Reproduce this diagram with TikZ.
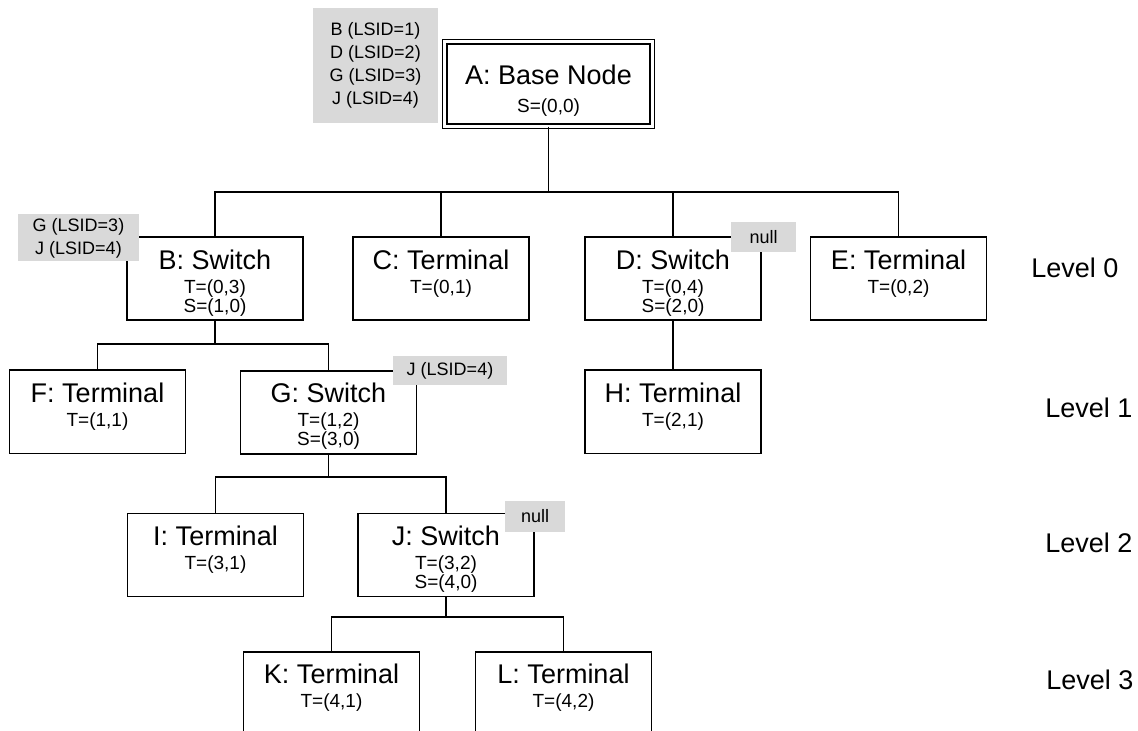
\documentclass[tikz,border=0pt]{standalone}
\usepackage{fontspec}
\setmainfont{Liberation Sans}
\usepackage{xcolor}
\definecolor{tagbg}{HTML}{D9D9D9}
\usepackage{tikz}
\newcommand{\devname}[1]{{\fontsize{13.5}{15}\selectfont\rule{0pt}{16pt}#1}}
\newcommand{\devend}{\rule[-4pt]{0pt}{4pt}}
\tikzset{
  devbox/.style={draw,line width=.8pt,minimum width=88pt,minimum height=41.5pt,inner sep=0pt,align=center,font=\fontsize{9.5}{9.5}\selectfont,anchor=north},
  basebox/.style={draw,double,line width=.7pt,double distance=1.5pt,minimum width=103.7pt,minimum height=42.2pt,inner sep=0pt,align=center,font=\fontsize{9.5}{9.5}\selectfont},
  lsidtag/.style={fill=tagbg,inner sep=0pt,align=center,font=\fontsize{9}{11.5}\selectfont},
  treelink/.style={line width=.8pt},
  levellabel/.style={anchor=west,inner sep=0pt,font=\fontsize{13.5}{15}\selectfont},
}

\begin{document}
\begin{tikzpicture}[x=0.5pt,y=-0.5pt]
\useasboundingbox (0,0) rectangle (1138,731);
\clip (0,0) rectangle (1138,731);

\node[basebox] (A) at (548.5,84) {\devname{A: Base Node}\\[4.5pt]S=(0,0)};

\node[devbox] (B) at (215,236.5) {\devname{B: Switch}\\[2.5pt]T=(0,3)\\S=(1,0)\devend};
\node[devbox] (C) at (441,236.5) {\devname{C: Terminal}\\[2.5pt]T=(0,1)\\\devend};
\node[devbox] (D) at (673,236.5) {\devname{D: Switch}\\[2.5pt]T=(0,4)\\S=(2,0)\devend};
\node[devbox] (E) at (898.5,236.5) {\devname{E: Terminal}\\[2.5pt]T=(0,2)\\\devend};

\node[devbox] (F) at (97.5,369.5) {\devname{F: Terminal}\\[2.5pt]T=(1,1)\\\devend};
\node[devbox] (G) at (328.5,370) {\devname{G: Switch}\\[2.5pt]T=(1,2)\\S=(3,0)\devend};
\node[devbox] (H) at (673,369.5) {\devname{H: Terminal}\\[2.5pt]T=(2,1)\\\devend};

\node[devbox] (I) at (215.5,512.5) {\devname{I: Terminal}\\[2.5pt]T=(3,1)\\\devend};
\node[devbox] (J) at (446,512.5) {\devname{J: Switch}\\[2.5pt]T=(3,2)\\S=(4,0)\devend};

\node[devbox] (K) at (331.5,651) {\devname{K: Terminal}\\[2.5pt]T=(4,1)\\\devend};
\node[devbox] (L) at (563.5,651) {\devname{L: Terminal}\\[2.5pt]T=(4,2)\\\devend};

% bus heights
\coordinate (bus0) at (0,192);
\coordinate (bus1) at (0,344);
\coordinate (bus2) at (0,477);
\coordinate (bus3) at (0,617);

\foreach \c in {B,C,D,E} \draw[treelink] (A.south) |- (\c.north|-bus0) -- (\c.north);
\foreach \c in {F,G} \draw[treelink] (B.south) |- (\c.north|-bus1) -- (\c.north);
\draw[treelink] (D.south) -- (H.north);
\foreach \c in {I,J} \draw[treelink] (G.south) |- (\c.north|-bus2) -- (\c.north);
\foreach \c in {K,L} \draw[treelink] (J.south) |- (\c.north|-bus3) -- (\c.north);

% LSID lists
\node[lsidtag,minimum width=62.5pt,minimum height=57.5pt] (tagA) at (375.5,65.5) {B (LSID=1)\\D (LSID=2)\\G (LSID=3)\\J (LSID=4)};
\node[lsidtag,minimum width=60.5pt,minimum height=23.5pt] (tagB) at (78.5,238) {G (LSID=3)\\J (LSID=4)};
\node[lsidtag,minimum width=32.5pt,minimum height=15pt] (tagD) at (763.5,237) {null};
\node[lsidtag,minimum width=57pt,minimum height=14.5pt] (tagG) at (450,370.5) {J (LSID=4)};
\node[lsidtag,minimum width=30pt,minimum height=15.5pt] (tagJ) at (535,516.5) {null};

\node[levellabel] (lvl0) at (1031,268) {Level 0};
\node[levellabel] (lvl1) at (1045,408) {Level 1};
\node[levellabel] (lvl2) at (1045,543) {Level 2};
\node[levellabel] (lvl3) at (1046,680) {Level 3};
\end{tikzpicture}
\end{document}
